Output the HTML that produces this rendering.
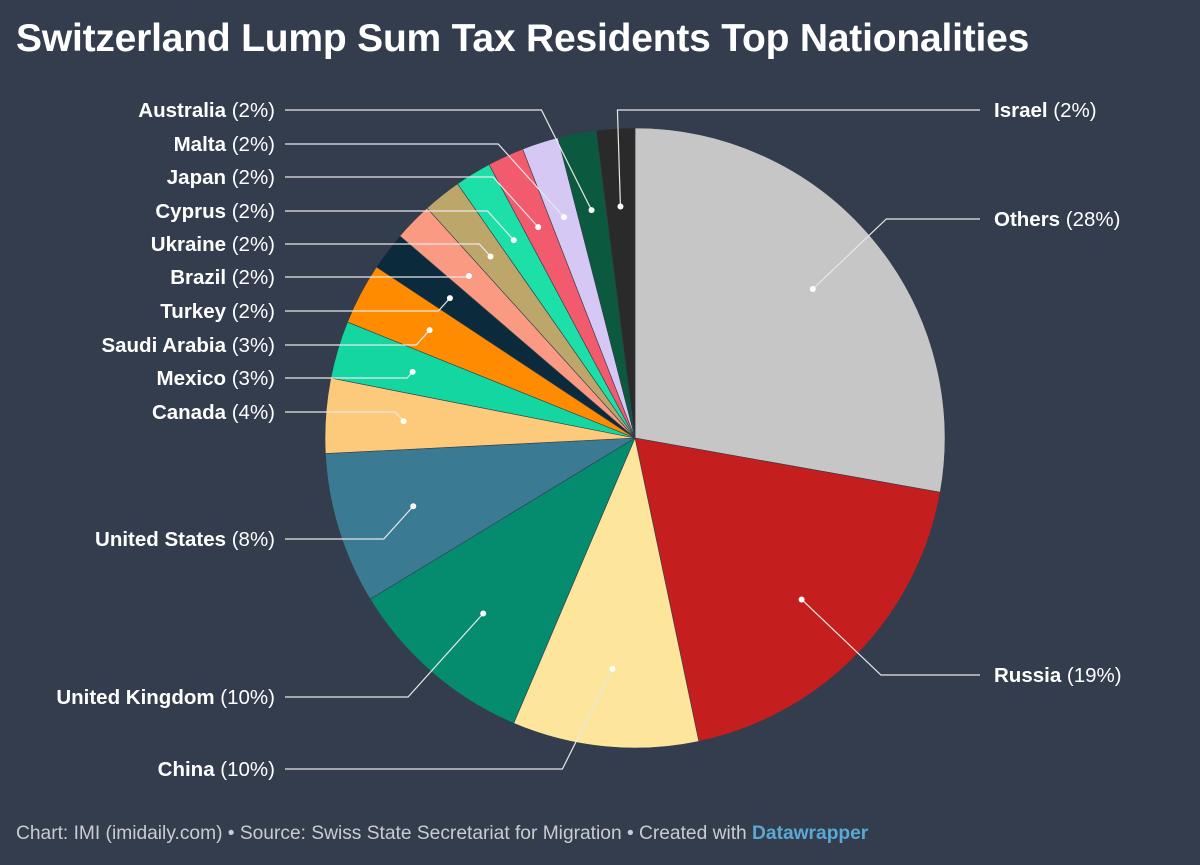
<!DOCTYPE html>
<html><head><meta charset="utf-8"><style>
body{margin:0;background:#333d4d;width:1200px;height:865px;overflow:hidden;font-family:"Liberation Sans",Arial,sans-serif;}
#title{position:absolute;left:16px;top:17px;color:#fff;font-weight:bold;font-size:39px;margin:0;letter-spacing:-0.2px;white-space:nowrap}
#footer{position:absolute;left:16px;top:823px;color:#c9ccd1;font-size:19.2px;white-space:nowrap}
#footer b{color:#5ba8d4}
svg{position:absolute;left:0;top:0}
</style></head><body>
<h1 id="title">Switzerland Lump Sum Tax Residents Top Nationalities</h1>
<svg id="chart" width="1200" height="865"></svg>
<div id="footer">Chart: IMI (imidaily.com) • Source: Swiss State Secretariat for Migration • Created with <b>Datawrapper</b></div>
<script>
const categories=["Others","Russia","China","United Kingdom","United States","Canada","Mexico","Saudi Arabia","Turkey","Brazil","Ukraine","Cyprus","Japan","Malta","Australia","Israel"];
const values=[27.8,18.9,9.7,9.9,7.9,3.9,3.0,3.2,2.0,2.0,2.0,1.9,1.9,1.9,2.0,2.0];
const labels=["28%","19%","10%","10%","8%","4%","3%","3%","2%","2%","2%","2%","2%","2%","2%","2%"];
const colors=["#c6c6c6","#c41e1e","#fde59b","#058c6e","#3a7a93","#fcca7a","#13d6a0","#ff8c00","#0b2b3d","#fb9a82","#bca66a","#1de0a8","#f25a6e","#d5c8f5","#0b5a40","#2a2a2a"];
const labelY={"Others":219,"Russia":675,"China":769,"United Kingdom":697,"United States":539,"Canada":412,"Mexico":378,"Saudi Arabia":345,"Turkey":311,"Brazil":277,"Ukraine":244,"Cyprus":211,"Japan":177,"Malta":144,"Australia":110,"Israel":110};
const NS="http://www.w3.org/2000/svg";
const svg=document.getElementById('chart');
const cx=635,cy=438,R=310,RD=232;
const total=values.reduce((a,b)=>a+b,0);
function pt(a,r){return [cx+r*Math.sin(a),cy-r*Math.cos(a)];}
let acc=0;
const gS=document.createElementNS(NS,'g');svg.appendChild(gS);
const gL=document.createElementNS(NS,'g');svg.appendChild(gL);
values.forEach((v,i)=>{
  const a0=acc/total*2*Math.PI; acc+=v; const a1=acc/total*2*Math.PI;
  const p0=pt(a0,R),p1=pt(a1,R);
  const path=document.createElementNS(NS,'path');
  path.setAttribute('d',`M${cx},${cy}L${p0[0]},${p0[1]}A${R},${R} 0 ${a1-a0>Math.PI?1:0} 1 ${p1[0]},${p1[1]}Z`);
  path.setAttribute('fill',colors[i]);path.setAttribute('stroke','#333d4d');path.setAttribute('stroke-width','0.6');
  
  
  gS.appendChild(path);
  const am=(a0+a1)/2; const d=pt(am,RD);
  const ly=labelY[categories[i]];
  const right=d[0]>cx+10 || categories[i]==="Israel";
  let ex,lx;
  if(categories[i]==="Israel"){ex=d[0]-3;lx=980;}
  else if(right){ex=d[0]+Math.abs(d[1]-ly)*1.05;lx=980;}
  else{ex=d[0]-Math.abs(d[1]-ly)*(Math.abs(d[1]-ly)>90?0.5:0.9);lx=285;}
  const line=document.createElementNS(NS,'polyline');
  line.setAttribute('points',`${d[0]},${d[1]} ${ex},${ly} ${lx},${ly}`);
  line.setAttribute('fill','none');line.setAttribute('stroke','#e8e8e8');line.setAttribute('stroke-width','1.2');
  
  
  gL.appendChild(line);
  const dot=document.createElementNS(NS,'circle');
  dot.setAttribute('cx',d[0]);dot.setAttribute('cy',d[1]);dot.setAttribute('r','3');dot.setAttribute('fill','#fff');
  
  
  gL.appendChild(dot);
  const t=document.createElementNS(NS,'text');
  t.setAttribute('x',right?lx+14:lx-10);t.setAttribute('y',ly+7);
  t.setAttribute('text-anchor',right?'start':'end');
  t.setAttribute('fill','#fff');t.setAttribute('font-size','20.5');
  
  
  const b=document.createElementNS(NS,'tspan');b.setAttribute('font-weight','bold');b.textContent=categories[i];
  const n=document.createElementNS(NS,'tspan');n.textContent=' ('+labels[i]+')';
  t.appendChild(b);t.appendChild(n);gL.appendChild(t);
});
</script>
</body></html>
